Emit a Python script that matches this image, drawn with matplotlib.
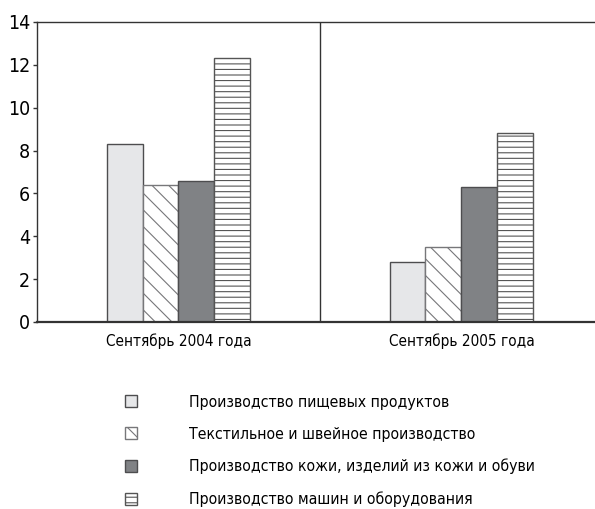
import matplotlib
matplotlib.use("Agg")
import matplotlib.pyplot as plt
import numpy as np

plt.rcParams['font.family'] = ['DejaVu Sans']
plt.rcParams['font.stretch'] = 'condensed'
plt.rcParams['hatch.linewidth'] = 0.8

categories = ["Сентябрь 2004 года", "Сентябрь 2005 года"]
series_names = ["Производство пищевых продуктов",
                "Текстильное и швейное производство",
                "Производство кожи, изделий из кожи и обуви",
                "Производство машин и оборудования"]
food = [8.3, 2.8]
textile = [6.4, 3.5]
leather = [6.6, 6.3]
machines = [12.3, 8.8]
yticks = [0, 2, 4, 6, 8, 10, 12, 14]

series = [food, textile, leather, machines]
faces = ['#e6e7e9', 'white', '#808285', 'white']
hatches = [None, '\\\\', None, '---']
edges = ['#4d4d4f', '#77777a', '#4d4d4f', '#555555']

fig = plt.figure(figsize=(5.95, 5.09), dpi=100)
ax = fig.add_axes([0.0622, 0.3674, 0.951, 0.5894])

x = np.arange(len(categories))
w = 0.127
for i, (vals, fc, h, ec) in enumerate(zip(series, faces, hatches, edges)):
    ax.bar(x + (i - 1.5) * w, vals, width=w, color=fc, hatch=h,
           edgecolor=ec, linewidth=1.0, label=series_names[i], zorder=2)

ax.set_xlim(-0.5, 1.5)
ax.set_ylim(0, 14)
ax.set_yticks(yticks)
ax.set_yticklabels([str(t) for t in yticks], fontsize=14)
ax.set_xticks(x)
ax.set_xticklabels(categories, fontsize=11)
ax.tick_params(axis='x', length=0, pad=8)
ax.tick_params(axis='y', length=3, width=1, color='#333333', pad=2)
ax.axvline(0.5, color='#333333', linewidth=1.0, zorder=1)
for s in ['left', 'top']:
    ax.spines[s].set_color('#333333')
    ax.spines[s].set_linewidth(1.0)
ax.spines['bottom'].set_color('#333333')
ax.spines['bottom'].set_linewidth(1.6)
ax.spines['right'].set_visible(False)

handles, labels = ax.get_legend_handles_labels()
leg = fig.legend(handles, labels, loc='upper left',
                 bbox_to_anchor=(0.186, 0.252), frameon=False,
                 fontsize=11.3, handlelength=0.8, handleheight=0.8,
                 handletextpad=3.3, labelspacing=1.08)

fig.savefig("out.png", dpi=100)
